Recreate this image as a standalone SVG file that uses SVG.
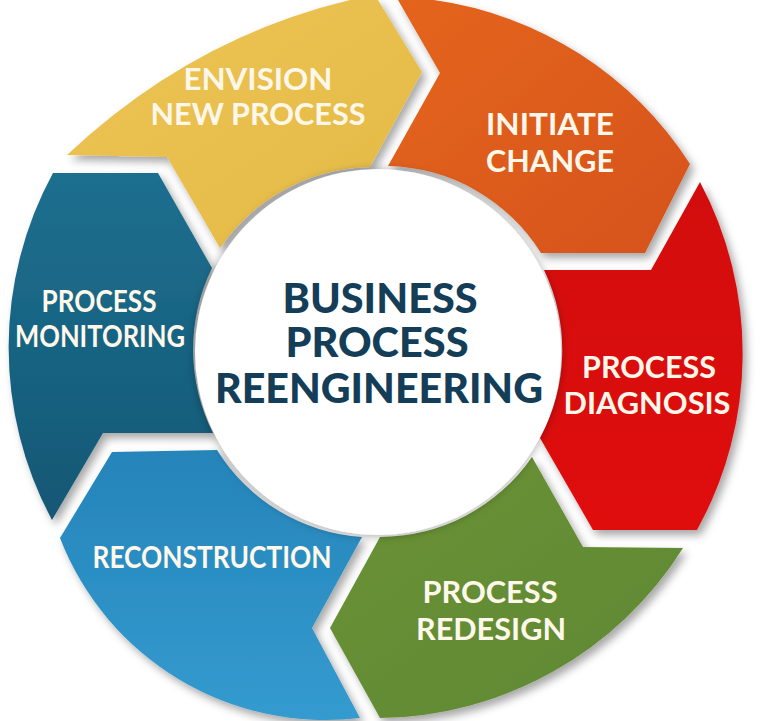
<svg xmlns="http://www.w3.org/2000/svg" width="768" height="721" viewBox="0 0 768 721">
<defs>
<filter id="sh" x="-15%" y="-15%" width="140%" height="140%"><feDropShadow dx="4" dy="5" stdDeviation="4" flood-color="#000" flood-opacity="0.35"/></filter>
<filter id="csh" x="-20%" y="-20%" width="140%" height="140%"><feDropShadow dx="0" dy="1" stdDeviation="5" flood-color="#000" flood-opacity="0.35"/></filter>
<linearGradient id="gY" x1="0" y1="0" x2="1" y2="1"><stop offset="0" stop-color="#EDC556"/><stop offset="1" stop-color="#E4B945"/></linearGradient>
<linearGradient id="gO" x1="0" y1="0" x2="1" y2="1"><stop offset="0" stop-color="#E4651F"/><stop offset="1" stop-color="#D6531A"/></linearGradient>
<linearGradient id="gR" x1="0" y1="0" x2="0" y2="1"><stop offset="0" stop-color="#D21010"/><stop offset="1" stop-color="#E00A0A"/></linearGradient>
<linearGradient id="gG" x1="0" y1="0" x2="1" y2="1"><stop offset="0" stop-color="#6A9236"/><stop offset="1" stop-color="#5F8833"/></linearGradient>
<linearGradient id="gB" x1="0" y1="0" x2="0" y2="1"><stop offset="0" stop-color="#2584B9"/><stop offset="1" stop-color="#349BCF"/></linearGradient>
<linearGradient id="gT" x1="0" y1="0" x2="0" y2="1"><stop offset="0" stop-color="#1E6F8F"/><stop offset="1" stop-color="#125775"/></linearGradient>
</defs>
<style>
.seg{filter:url(#sh)}
.lbl{font-family:Lato,"Open Sans","Liberation Sans",sans-serif;font-weight:700;font-size:30px;fill:#FFF8EA;text-anchor:middle}
.ttl{font-family:Lato,"Open Sans","Liberation Sans",sans-serif;font-weight:900;font-size:41px;fill:#143D58;text-anchor:middle}
</style>
<rect width="768" height="721" fill="#fff"/>
<g id="envision">
<path class="seg" fill="url(#gY)" d="M67,155 L167,157 L220,248 A185,185 0 0 1 370,167 L422,72 L378,0 L350,0 Q191,38 67,155 Z"/>
<text class="lbl" x="258" y="90" textLength="149" lengthAdjust="spacingAndGlyphs">ENVISION</text>
<text class="lbl" x="258" y="125" textLength="215" lengthAdjust="spacingAndGlyphs">NEW PROCESS</text>
</g>
<g id="initiate">
<path class="seg" fill="url(#gO)" d="M388,166 L440,73 L398,0 L434,0 A365,365 0 0 1 690,164 L645,253 L541,253 A185,185 0 0 0 388,166 Z"/>
<text class="lbl" x="550" y="135" textLength="128" lengthAdjust="spacingAndGlyphs">INITIATE</text>
<text class="lbl" x="550" y="172" textLength="128" lengthAdjust="spacingAndGlyphs">CHANGE</text>
</g>
<g id="diagnosis">
<path class="seg" fill="url(#gR)" d="M544,270 L651,270 L700,182 A365,365 0 0 1 697,530 L593,530 L540,438 A185,185 0 0 0 544,270 Z"/>
<text class="lbl" x="649" y="378" textLength="134" lengthAdjust="spacingAndGlyphs">PROCESS</text>
<text class="lbl" x="647" y="414" textLength="167" lengthAdjust="spacingAndGlyphs">DIAGNOSIS</text>
</g>
<g id="redesign">
<path class="seg" fill="url(#gG)" d="M532,457 L583,547 L683,548 A363,363 0 0 1 380,718 L330,628 L380,537 A185,185 0 0 0 532,457 Z"/>
<text class="lbl" x="490" y="603" textLength="135" lengthAdjust="spacingAndGlyphs">PROCESS</text>
<text class="lbl" x="491" y="640" textLength="150" lengthAdjust="spacingAndGlyphs">REDESIGN</text>
</g>
<g id="reconstruction">
<path class="seg" fill="url(#gB)" d="M362,537 L312,628 L360,718 A285,285 0 0 1 60,538 L112,452 L217,450 A185,185 0 0 0 362,537 Z"/>
<text class="lbl" x="212" y="568" textLength="239" lengthAdjust="spacingAndGlyphs">RECONSTRUCTION</text>
</g>
<g id="monitoring">
<path class="seg" fill="url(#gT)" d="M53,173 L158,173 L212,268 A185,185 0 0 0 213,433 L103,433 L52,520 A365,365 0 0 1 53,173 Z"/>
<text class="lbl" x="99" y="312" textLength="115" lengthAdjust="spacingAndGlyphs">PROCESS</text>
<text class="lbl" x="100" y="347" textLength="170" lengthAdjust="spacingAndGlyphs">MONITORING</text>
</g>
<g id="center">
<circle cx="378" cy="352" r="183" fill="#fff" filter="url(#csh)"/>
<text class="ttl" x="380" y="313" textLength="195" lengthAdjust="spacingAndGlyphs">BUSINESS</text>
<text class="ttl" x="377" y="357" textLength="183" lengthAdjust="spacingAndGlyphs">PROCESS</text>
<text class="ttl" x="379" y="403" textLength="328" lengthAdjust="spacingAndGlyphs">REENGINEERING</text>
</g>
</svg>
